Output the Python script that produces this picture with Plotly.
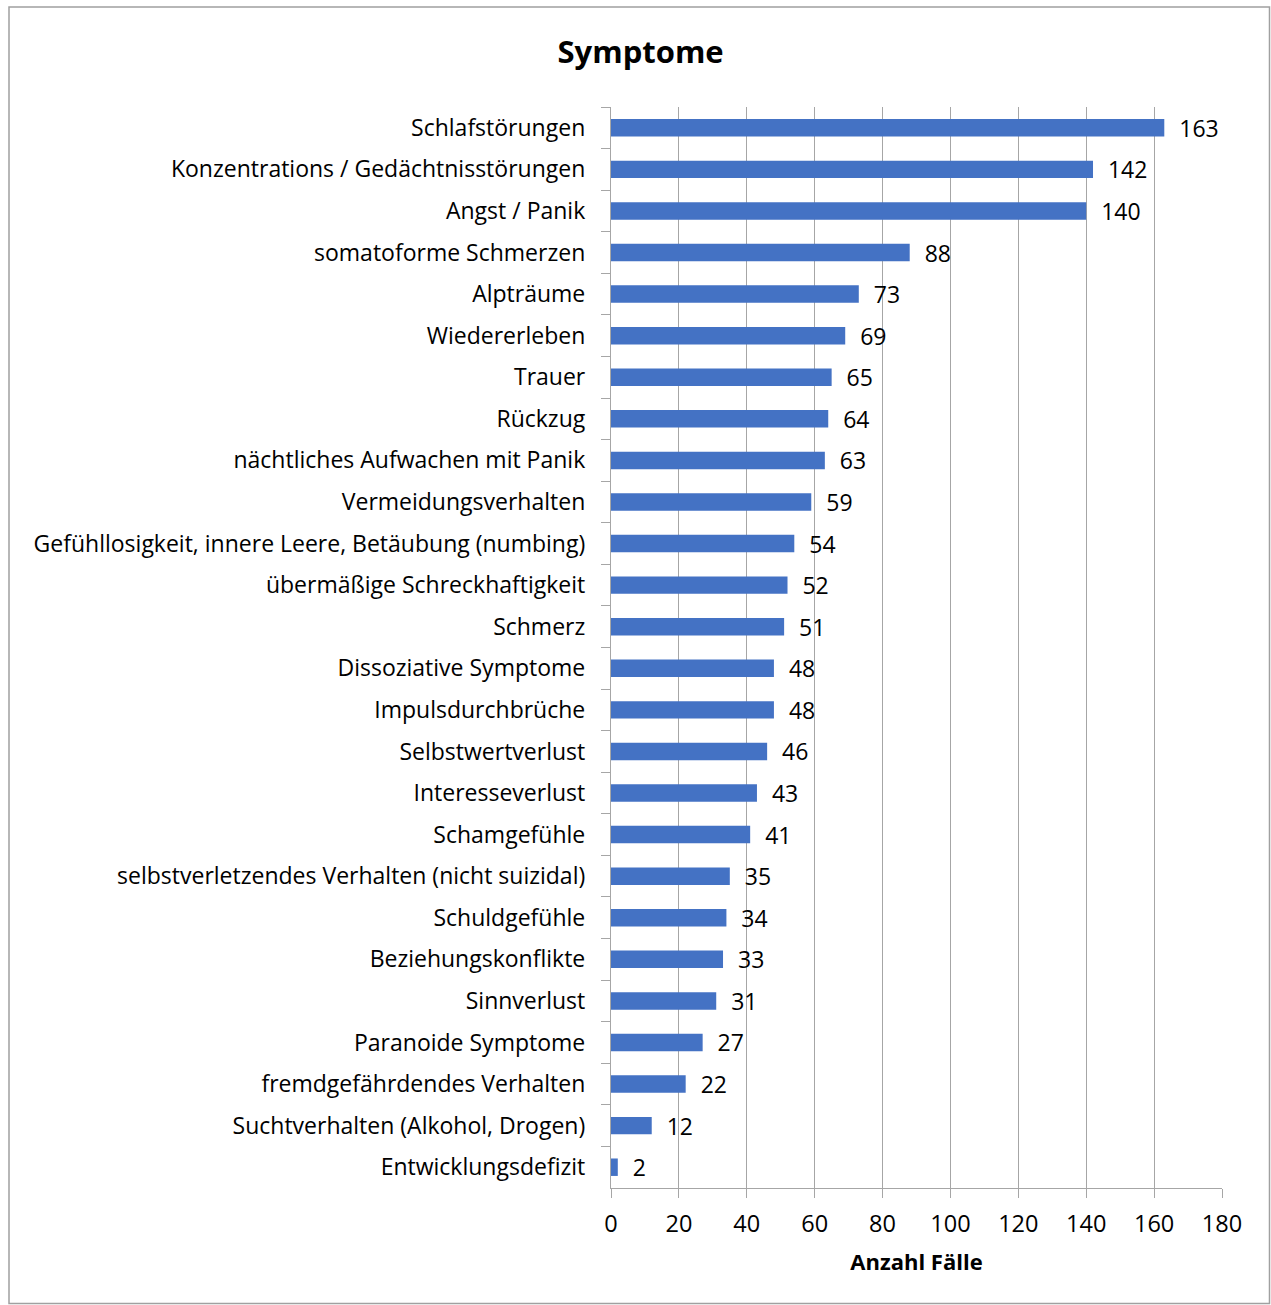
import plotly.graph_objects as go

categories = [
    "Schlafstörungen",
    "Konzentrations / Gedächtnisstörungen",
    "Angst / Panik",
    "somatoforme Schmerzen",
    "Alpträume",
    "Wiedererleben",
    "Trauer",
    "Rückzug",
    "nächtliches Aufwachen mit Panik",
    "Vermeidungsverhalten",
    "Gefühllosigkeit, innere Leere, Betäubung (numbing)",
    "übermäßige Schreckhaftigkeit",
    "Schmerz",
    "Dissoziative Symptome",
    "Impulsdurchbrüche",
    "Selbstwertverlust",
    "Interesseverlust",
    "Schamgefühle",
    "selbstverletzendes Verhalten (nicht suizidal)",
    "Schuldgefühle",
    "Beziehungskonflikte",
    "Sinnverlust",
    "Paranoide Symptome",
    "fremdgefährdendes Verhalten",
    "Suchtverhalten (Alkohol, Drogen)",
    "Entwicklungsdefizit",
]
values = [163, 142, 140, 88, 73, 69, 65, 64, 63, 59, 54, 52, 51, 48, 48, 46, 43, 41, 35, 34, 33, 31, 27, 22, 12, 2]
x_ticks = [0, 20, 40, 60, 80, 100, 120, 140, 160, 180]

FONT = "Open Sans"
GRID = "#a6a6a6"

fig = go.Figure(go.Bar(
    y=categories,
    x=values,
    orientation="h",
    marker=dict(color="#4472c4", line=dict(width=0)),
    text=["\u00a0\u00a0" + str(v) for v in values],
    textposition="outside",
    constraintext="none",
    textfont=dict(family=FONT, size=23, color="#000000"),
    cliponaxis=False,
))

fig.update_layout(
    width=1271,
    height=1305,
    paper_bgcolor="white",
    plot_bgcolor="white",
    margin=dict(l=611, r=49, t=107, b=117),
    bargap=0.58,
    showlegend=False,
    title=dict(
        text="<b>Symptome</b>",
        x=0.504, xanchor="center",
        y=1 - 52 / 1305, yanchor="middle",
        font=dict(family=FONT, size=31, color="#000000"),
    ),
    font=dict(family=FONT, size=23, color="#000000"),
    shapes=[dict(
        type="rect", xref="paper", yref="paper",
        x0=-602 / 611, x1=1 + 47.5 / 611,
        y0=-115.5 / 1081, y1=1 + 100 / 1081,
        line=dict(color="#a0a0a0", width=1.5),
        fillcolor="rgba(0,0,0,0)",
        layer="below",
    )],
)

fig.update_xaxes(
    range=[0, 180],
    tickvals=x_ticks,
    ticktext=[str(t) for t in x_ticks],
    showgrid=True,
    gridcolor=GRID,
    gridwidth=1.3,
    showline=True,
    linecolor=GRID,
    linewidth=1.3,
    ticks="outside",
    ticklen=9,
    tickcolor=GRID,
    tickwidth=1.3,
    ticklabelstandoff=6,
    tickfont=dict(family=FONT, size=23.5, color="#000000"),
    zeroline=False,
    title=dict(text="<b>Anzahl Fälle</b>", font=dict(family=FONT, size=22, color="#000000"), standoff=16),
)

fig.update_yaxes(
    autorange="reversed",
    type="category",
    showgrid=False,
    showline=True,
    linecolor=GRID,
    linewidth=1.3,
    ticks="outside",
    tickson="boundaries",
    ticklen=9,
    tickcolor=GRID,
    tickwidth=1.3,
    ticklabelstandoff=20,
    tickfont=dict(family=FONT, size=23, color="#000000"),
)

fig.write_html("out.html")
